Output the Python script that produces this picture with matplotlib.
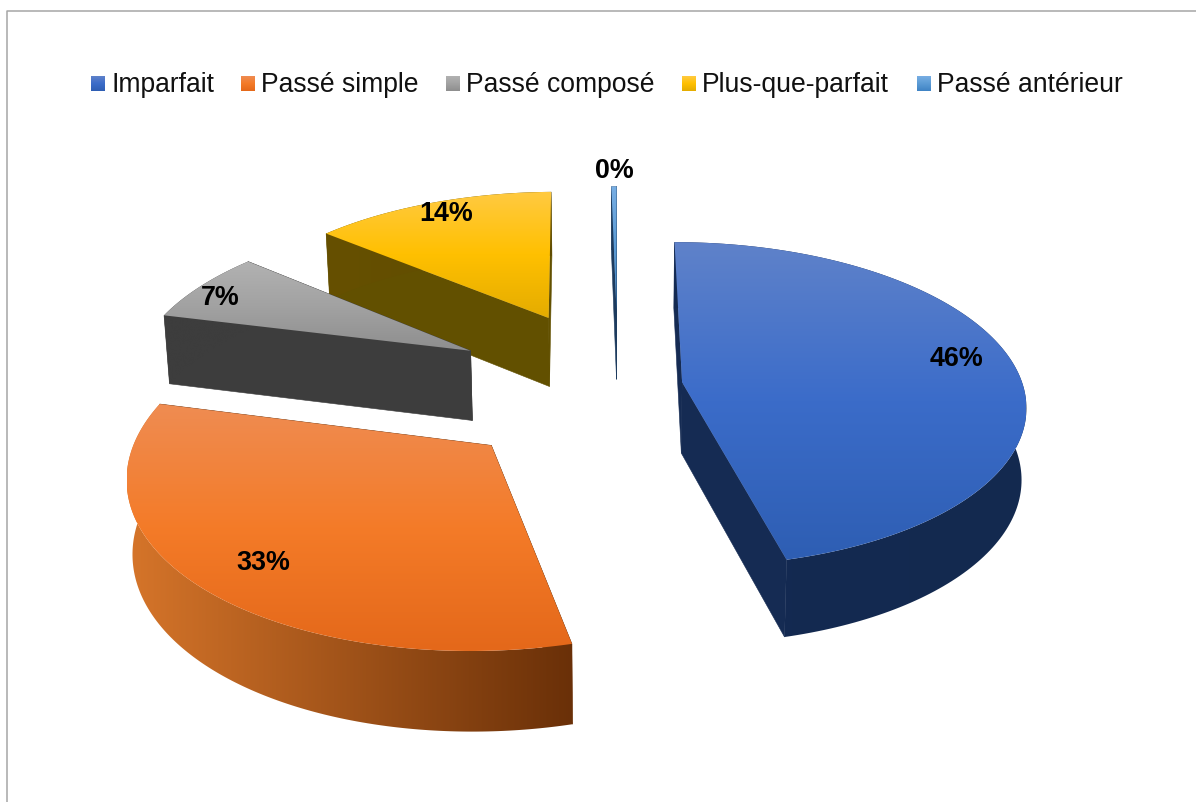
import numpy as np
import matplotlib
matplotlib.use("Agg")
import matplotlib.pyplot as plt
from matplotlib.colors import to_rgb
from matplotlib.patches import Polygon

plt.rcParams["font.family"] = ["Liberation Sans", "DejaVu Sans"]

# ------------------------------------------------------------
# Data
# ------------------------------------------------------------
temps = ["Imparfait", "Passé simple", "Passé composé", "Plus-que-parfait", "Passé antérieur"]
valeurs = [46.1, 32.8, 7.2, 13.6, 0.3]

# ------------------------------------------------------------
# Styles
# ------------------------------------------------------------
explode = [0.19, 0.5, 0.5, 0.5, 0.5]
draw_order = [4, 3, 2, 1, 0]
top_colors = [
    ["#5f82ca", "#3b6cc9", "#2e5eb3"],
    ["#ef8c52", "#f47b28", "#e4681a"],
    ["#b2b2b2", "#a2a2a2", "#8e8e8e"],
    ["#ffca42", "#ffc000", "#e4ac00"],
    ["#78aee3", "#5b9bd5", "#3f83c4"],
]
rim_colors = [
    ["#132a52", "#14294f"],
    ["#d6752a", "#6a3008"],
    ["#3d3d3d", "#3d3d3d"],
    ["#665000", "#5f4b00"],
    ["#1d3b5e", "#1d3b5e"],
]
cut_colors = ["#152b53", "#6a3008", "#3d3d3d", "#625000", "#1d3b5e"]
legend_x = [91, 241, 446, 682, 917]
label_xy = [(956, 357), (263, 561), (220, 296), (446, 212), (614, 169)]

# perspective of the pie plane, in pixels
X0, Y0 = 618.0, 386.0
A, B = 341.0, 160.0
P = 0.135
H0, H1 = 28.0, 43.0
K = 0.988


def project(x, y, z=0.0):
    s = 1.0 / (1.0 + P * y)
    sx = X0 + A * x * s
    sy = Y0 - B * y * s
    if z:
        sx = X0 + (sx - X0) * K
        sy = sy + H0 + H1 * s
    return np.column_stack([sx, sy])


def grad_fill(ax, xy, colors, vertical, zorder):
    rgb = np.array([to_rgb(c) for c in colors])
    t = np.linspace(0, 1, 256)
    ts = np.linspace(0, 1, len(colors))
    g = np.column_stack([np.interp(t, ts, rgb[:, i]) for i in range(3)])
    img = g[:, None, :] if vertical else g[None, :, :]
    x0, y0 = xy.min(axis=0)
    x1, y1 = xy.max(axis=0)
    im = ax.imshow(img, extent=[x0, x1, y1, y0], aspect="auto",
                   interpolation="bilinear", zorder=zorder)
    im.set_clip_path(Polygon(xy, closed=True, transform=ax.transData))


def draw_slice(ax, i, t0, t1, zorder):
    mid = (t0 + t1) / 2
    ax0 = explode[i] * np.sin(mid)
    ay0 = explode[i] * np.cos(mid)
    th = np.linspace(t0, t1, 160)
    rx = ax0 + np.sin(th)
    ry = ay0 + np.cos(th)

    # cut faces, first and last edge of the slice
    for k in (0, -1):
        ex = np.array([ax0, rx[k]])
        ey = np.array([ay0, ry[k]])
        face = np.vstack([project(ex, ey), project(ex, ey, 1)[::-1]])
        ax.add_patch(Polygon(face, closed=True, fc=cut_colors[i], ec=cut_colors[i],
                             lw=0.4, zorder=zorder))

    # rim
    rim = np.vstack([project(rx, ry), project(rx, ry, 1)[::-1]])
    grad_fill(ax, rim, rim_colors[i], False, zorder + 0.1)

    # top face
    top = np.vstack([project(np.array([ax0]), np.array([ay0])), project(rx, ry)])
    grad_fill(ax, top, top_colors[i], True, zorder + 0.2)


fig = plt.figure(figsize=(11.96, 8.02), dpi=100, facecolor="white")
ax = fig.add_axes([0, 0, 1, 1])

fracs = np.array(valeurs, dtype=float) / np.sum(valeurs)
edges = np.concatenate([[0], np.cumsum(fracs)]) * 2 * np.pi
for n, i in enumerate(draw_order):
    draw_slice(ax, i, edges[i], edges[i + 1], 2 + n)

# data labels
for i, (lx, ly) in enumerate(label_xy):
    ax.text(lx, ly + 2, f"{fracs[i] * 100:.0f}%", ha="center", va="center",
            fontsize=19.4, fontweight="bold", color="black", zorder=20)

# legend
for i, name in enumerate(temps):
    sq = np.array([[legend_x[i], 76], [legend_x[i] + 14, 76],
                   [legend_x[i] + 14, 91], [legend_x[i], 91]], dtype=float)
    grad_fill(ax, sq, top_colors[i], True, 20)
    ax.text(legend_x[i] + 20, 92, name, ha="left", va="baseline",
            fontsize=19.1, color="#111111", zorder=20)

# chart frame, cropped on the right and at the bottom
ax.plot([6.5, 6.5, 1196], [802, 10.5, 10.5], color="#a6a6a6", lw=1.1, zorder=1)

ax.set_xlim(0, 1196)
ax.set_ylim(802, 0)
ax.axis("off")
fig.savefig("out.png", dpi=100)
